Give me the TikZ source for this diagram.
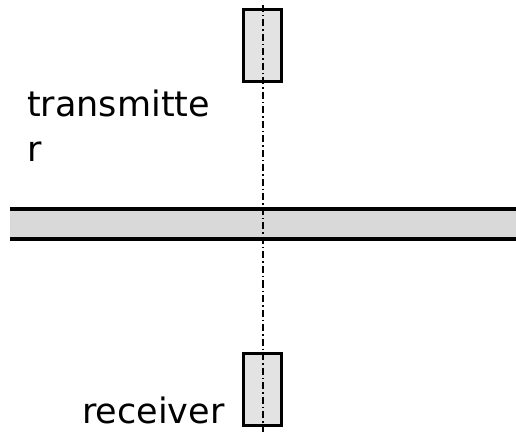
\documentclass[tikz,border=0pt]{standalone}
\usepackage{fontspec}
\setmainfont{DejaVu Sans}
\definecolor{bandfill}{HTML}{D9D9D9}
\definecolor{boxfill}{HTML}{E3E3E3}
\begin{document}
\begin{tikzpicture}[x=1pt,y=-1pt,
  antenna/.style={draw=black, line width=3pt, fill=boxfill,
    minimum width=38pt, minimum height=72pt, inner sep=0pt},
  wall/.style={line width=3.5pt, draw=black},
  axis/.style={line width=2pt, dash pattern=on 7pt off 3pt on 1.5pt off 3pt},
  label/.style={font=\fontsize{35}{45}\selectfont, inner sep=0pt, anchor=base west}]
\useasboundingbox (0,0) rectangle (516,435);
% the wall
\fill[bandfill] (10,209) rectangle (516,239);
\draw[wall] (10,209) -- (516,209);
\draw[wall] (10,239) -- (516,239);
% transmitter and receiver
\node[antenna] (tx) at (262.5,45.5) {};
\node[antenna] (rx) at (262.5,389.5) {};
% line of sight through both antennas
\coordinate (top) at (262.5,5);
\coordinate (bottom) at (262.5,432);
\draw[axis] (top) -- (tx.north) -- (tx.south) -- (rx.north) -- (rx.south) -- (bottom);
% labels
\node[label] (txl) at (27,117) {transmitte};
\node[label] (txl2) at (27,162) {r};
\node[label] (rxl) at (82,423) {receiver};
\end{tikzpicture}
\end{document}
